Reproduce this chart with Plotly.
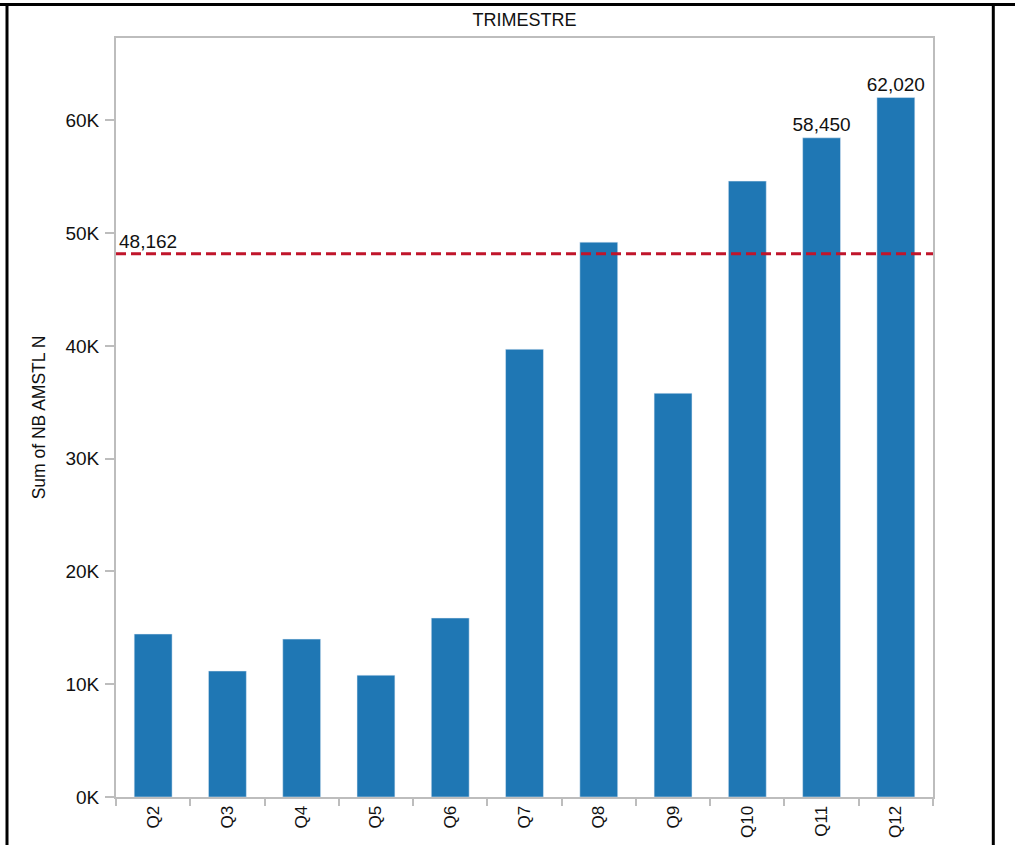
import plotly.graph_objects as go

categories = ["Q2", "Q3", "Q4", "Q5", "Q6", "Q7", "Q8", "Q9", "Q10", "Q11", "Q12"]
values = [14450, 11170, 14000, 10800, 15870, 39700, 49200, 35800, 54610, 58450, 62020]
bar_labels = ["", "", "", "", "", "", "", "", "", "58,450", "62,020"]
ref_value = 48162
ref_label = "48,162"
y_tick_vals = [0, 10000, 20000, 30000, 40000, 50000, 60000]
y_tick_text = ["0K", "10K", "20K", "30K", "40K", "50K", "60K"]

W, H = 1015, 845
L, R, T, B = 116, 933, 38, 797
pw, ph = R - L, B - T

def px_x(x):
    return (x - L) / pw

def px_y(y):
    return (B - y) / ph

font_family = "Liberation Sans, Arial, sans-serif"

fig = go.Figure()
fig.add_trace(go.Bar(
    x=categories, y=values, marker_color="#1f77b4", width=0.51,
    text=bar_labels, textposition="outside", constraintext="none",
    textfont=dict(size=19, color="#111", family=font_family),
    cliponaxis=False, hoverinfo="x+y",
))

fig.add_shape(type="line", xref="paper", yref="y", x0=0, x1=1, y0=ref_value, y1=ref_value,
              line=dict(color="#c0152b", width=3, dash="10px,5px"))
fig.add_annotation(xref="paper", yref="y", x=px_x(117), y=ref_value, text=ref_label,
                   showarrow=False, xanchor="left", yanchor="bottom", yshift=0,
                   font=dict(size=19, color="#111", family=font_family))

# outer black frame
for x0, y0, x1, y1 in [(7, 3, 7, 850), (0, 4.5, 1015, 4.5), (993.3, 3, 993.3, 850)]:
    fig.add_shape(type="line", xref="paper", yref="paper",
                  x0=px_x(x0), x1=px_x(x1), y0=px_y(y0), y1=px_y(y1),
                  line=dict(color="black", width=3))

fig.update_layout(
    width=W, height=H,
    margin=dict(l=L, r=W - R, t=T, b=H - B, autoexpand=False),
    paper_bgcolor="white", plot_bgcolor="white",
    showlegend=False,
    font=dict(family=font_family, color="#111"),
    title=dict(text="TRIMESTRE", x=(L + R) / 2 / W, xanchor="center",
               y=1 - 20 / H, yanchor="middle", yref="container", xref="container",
               font=dict(size=18, color="#111", family=font_family)),
)
fig.update_xaxes(
    showline=True, linecolor="#bdbdbd", linewidth=2, mirror=True,
    ticks="outside", tickson="boundaries", ticklen=7, tickcolor="#bdbdbd", tickwidth=2,
    tickangle=-90, tickfont=dict(size=17, color="#111"),
    showgrid=False, automargin=False,
)
fig.update_yaxes(
    range=[0, 67300], showline=True, linecolor="#bdbdbd", linewidth=2, mirror=True,
    ticks="outside", ticklen=9, tickcolor="#bdbdbd", tickwidth=2,
    tickvals=y_tick_vals, ticktext=y_tick_text, tickfont=dict(size=19, color="#111"),
    ticklabelstandoff=2,
    showgrid=False, zeroline=False, automargin=False,
    title=dict(text="Sum of NB AMSTL N", standoff=15,
               font=dict(size=17.5, color="#111", family=font_family)),
)

fig.write_html("out.html", config={"displayModeBar": False},
               post_script="document.body.style.margin='0';")
